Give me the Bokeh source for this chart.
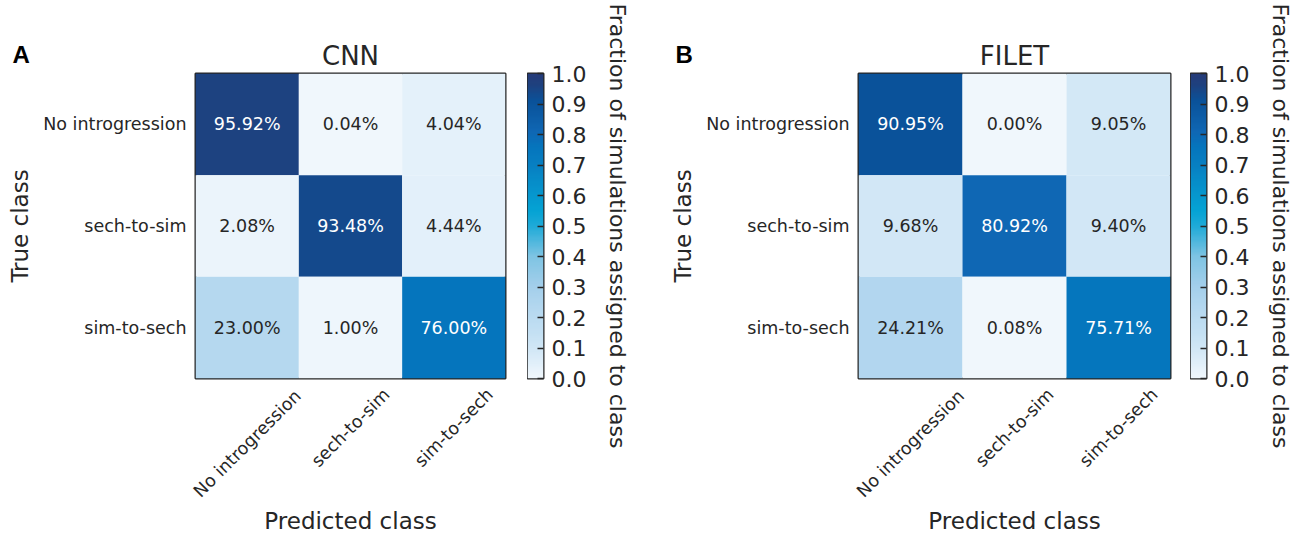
import numpy as np
from bokeh.plotting import figure
from bokeh.models import (ColumnDataSource, LinearColorMapper, FactorRange, Range1d,
                          FixedTicker, PrintfTickFormatter)
from bokeh.layouts import row, column
from bokeh.embed import file_html
from bokeh.resources import INLINE
from bokeh.core.properties import value

# ---------------- data ----------------
classes = ["No introgression", "sech-to-sim", "sim-to-sech"]
cnn_values = [[95.92, 0.04, 4.04],
              [2.08, 93.48, 4.44],
              [23.00, 1.00, 76.00]]
filet_values = [[90.95, 0.00, 9.05],
                [9.68, 80.92, 9.40],
                [24.21, 0.08, 75.71]]
panel_titles = ["CNN", "FILET"]
panel_letters = ["A", "B"]
colorbar_ticks = [0.0, 0.1, 0.2, 0.3, 0.4, 0.5, 0.6, 0.7, 0.8, 0.9, 1.0]
x_label = "Predicted class"
y_label = "True class"
cb_label = "Fraction of simulations assigned to class"

# ---------------- colormap ----------------
anchors = [(0.00, "#f0f7fc"), (0.02, "#ebf4fb"), (0.045, "#e2f0fa"), (0.09, "#d3e8f6"),
           (0.15, "#c4e0f3"), (0.235, "#b3d7ef"), (0.30, "#a4cfeb"), (0.40, "#7ec4e3"),
           (0.50, "#1eaad8"), (0.55, "#05a3d4"), (0.62, "#0693cc"), (0.70, "#0780c2"),
           (0.76, "#0575bd"), (0.81, "#0f67b4"), (0.91, "#0a529a"), (0.935, "#134a8d"),
           (0.96, "#1d4280"), (1.00, "#263b78")]


def _rgb(h):
    return [int(h[i:i + 2], 16) for i in (1, 3, 5)]


def build_palette(n=256):
    pos = [a[0] for a in anchors]
    cols = np.array([_rgb(a[1]) for a in anchors], dtype=float)
    out = []
    for t in np.linspace(0, 1, n):
        r = np.interp(t, pos, cols[:, 0])
        g = np.interp(t, pos, cols[:, 1])
        b = np.interp(t, pos, cols[:, 2])
        out.append("#%02x%02x%02x" % (int(round(r)), int(round(g)), int(round(b))))
    return out


palette = build_palette()
mapper = LinearColorMapper(palette=palette, low=0.0, high=1.0)

FONT = "DejaVu Sans"
DARK = "#262626"
H = 534
TOP_H = 71        # title strip
FRAME_H = 305     # matrix frame
PAD = 2
BOT_H = H - TOP_H - FRAME_H - 2 * PAD   # label strip (154)


def strip(width, height, left, frame_w, y_start, y_end):
    colw = frame_w / 3.0
    s = figure(width=width, height=height, output_backend="svg", toolbar_location=None,
               x_range=Range1d(-left / colw, (width - left) / colw),
               y_range=Range1d(y_start, y_end), frame_align=False,
               min_border_left=0, min_border_right=0, min_border_top=0, min_border_bottom=0,
               x_axis_location=None, y_axis_location=None)
    s.grid.visible = False
    s.outline_line_color = None
    return s, colw


def make_panel(values, title, letter, width, left, frame_w, letter_px):
    right = width - left - frame_w

    # ---- title strip (y = pixels from the top of the page) ----
    t, colw = strip(width, TOP_H, left, frame_w, TOP_H, 0)
    t.text(x=[1.5], y=[55], text=[title], text_align="center", text_baseline="middle",
           text_font=value(FONT), text_font_size="26px", text_color=DARK)
    t.text(x=[(letter_px - left) / colw], y=[53.5], text=[letter], text_align="left",
           text_baseline="middle", text_font=value("Liberation Sans"),
           text_font_style="bold", text_font_size="24px", text_color="black")

    # ---- matrix ----
    p = figure(width=width, height=FRAME_H + 2 * PAD, output_backend="svg",
               toolbar_location=None, frame_align=False,
               x_range=FactorRange(factors=classes),
               y_range=FactorRange(factors=classes[::-1]),
               min_border_left=left, min_border_right=right,
               min_border_top=PAD, min_border_bottom=PAD,
               x_axis_location=None)
    xs, ys, vs, labels, tcs = [], [], [], [], []
    for i, true_c in enumerate(classes):
        for j, pred_c in enumerate(classes):
            v = values[i][j]
            xs.append(pred_c)
            ys.append(true_c)
            vs.append(v / 100.0)
            labels.append("%.2f%%" % v)
            tcs.append("white" if v > 50 else DARK)
    src = ColumnDataSource(dict(x=xs, y=ys, v=vs, label=labels, tc=tcs))
    p.rect(x="x", y="y", width=1, height=1, source=src,
           fill_color={"field": "v", "transform": mapper}, line_color=None)
    p.text(x="x", y="y", text="label", text_color="tc", source=src,
           text_align="center", text_baseline="middle",
           text_font=value(FONT), text_font_size="17.5px")
    p.grid.visible = False
    p.outline_line_color = DARK
    p.outline_line_width = 2

    ax = p.yaxis[0]
    ax.major_tick_line_color = None
    ax.minor_tick_line_color = None
    ax.axis_line_color = None
    ax.major_label_text_font = FONT
    ax.major_label_text_font_size = "17.5px"
    ax.major_label_text_color = DARK
    ax.major_label_standoff = 3
    ax.axis_label = y_label
    ax.axis_label_text_font = FONT
    ax.axis_label_text_font_size = "23px"
    ax.axis_label_text_font_style = "normal"
    ax.axis_label_text_color = DARK
    ax.axis_label_standoff = 7

    # ---- label strip (y = pixels below the matrix frame) ----
    b, colw = strip(width, BOT_H, left, frame_w, BOT_H + PAD, PAD)
    centers = [i + 0.5 for i in range(len(classes))]
    drops = [7 + (len(c) * 9.0 + 20) * 0.7071 / 2 for c in classes]
    b.text(x=centers, y=drops, text=classes, angle=np.pi / 4,
           text_align="center", text_baseline="middle",
           text_font=value(FONT), text_font_size="17.5px", text_color=DARK)
    b.text(x=[1.5], y=[142], text=[x_label], text_align="center",
           text_baseline="middle", text_font=value(FONT),
           text_font_size="23px", text_color=DARK)

    return column(t, p, b, spacing=0)


def make_colorbar(width):
    c = figure(width=width, height=H, output_backend="svg", toolbar_location=None,
               x_range=Range1d(0, 1), y_range=Range1d(0, 1), frame_align=False,
               min_border_left=0, min_border_right=width - 16,
               min_border_top=TOP_H + PAD, min_border_bottom=BOT_H + PAD,
               x_axis_location=None, y_axis_location="right")
    grad = np.linspace(0, 1, 256).reshape(256, 1)
    c.image(image=[grad], x=0, y=0, dw=1, dh=1, color_mapper=mapper)
    c.grid.visible = False
    c.outline_line_color = DARK
    c.outline_line_width = 2
    ax = c.yaxis[0]
    ax.ticker = FixedTicker(ticks=colorbar_ticks)
    ax.formatter = PrintfTickFormatter(format="%.1f")
    ax.major_tick_in = 6
    ax.major_tick_out = 0
    ax.major_tick_line_color = DARK
    ax.major_tick_line_width = 1.5
    ax.minor_tick_line_color = None
    ax.axis_line_color = None
    ax.major_label_text_font = FONT
    ax.major_label_text_font_size = "22px"
    ax.major_label_text_color = DARK
    ax.major_label_standoff = 8
    ax.axis_label = cb_label
    ax.axis_label_text_font = FONT
    ax.axis_label_text_font_size = "22px"
    ax.axis_label_text_font_style = "normal"
    ax.axis_label_text_color = DARK
    ax.axis_label_standoff = 16
    return c


panelA = make_panel(cnn_values, panel_titles[0], panel_letters[0], 527, 195, 310, 12)
cA = make_colorbar(113)
panelB = make_panel(filet_values, panel_titles[1], panel_letters[1], 550, 218, 312, 35)
cB = make_colorbar(112)

layout = row(panelA, cA, panelB, cB, spacing=0)
open("out.html", "w").write(file_html(layout, INLINE))
